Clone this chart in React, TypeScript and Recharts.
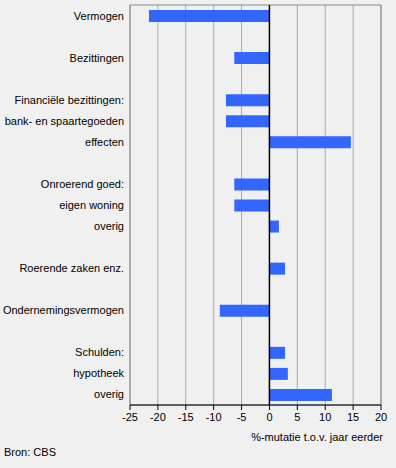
import { BarChart, Bar, XAxis, YAxis, CartesianGrid, ReferenceLine, ReferenceArea } from 'recharts';

const categories = [
  'Vermogen',
  '',
  'Bezittingen',
  '',
  'Financiële bezittingen:',
  'bank- en spaartegoeden',
  'effecten',
  '',
  'Onroerend goed:',
  'eigen woning',
  'overig',
  '',
  'Roerende zaken enz.',
  '',
  'Ondernemingsvermogen',
  '',
  'Schulden:',
  'hypotheek',
  'overig'
];

const values: (number | null)[] = [
  -21.6, null, -6.3, null, -7.8, -7.8, 14.6, null, -6.3, -6.3, 1.7, null, 2.8, null, -8.9, null, 2.8, 3.3, 11.2
];

const xTicks = [-25, -20, -15, -10, -5, 0, 5, 10, 15, 20];

const data = categories.map((label, i) => ({ key: `c${i}`, label, value: values[i] }));
const labelFor: Record<string, string> = Object.fromEntries(data.map((d) => [d.key, d.label]));

const font = '"Liberation Sans", Arial, sans-serif';

function CategoryTick(props: any) {
  const { x, y, payload } = props;
  return (
    <text x={x} y={y} textAnchor="end" dominantBaseline="central" fill="#000" fontSize={11} fontFamily={font}>
      {labelFor[payload.value]}
    </text>
  );
}

export default function App() {
  return (
    <div style={{ position: 'relative', width: 396, height: 468, background: '#f0f0f0', fontFamily: font }}>
      <style>{`body{margin:0}`}</style>
      <BarChart
        width={396}
        height={468}
        data={data}
        layout="vertical"
        margin={{ top: 5, right: 15, bottom: 33, left: 0 }}
        barSize={12}
      >
        <CartesianGrid horizontal={false} stroke="#a8a8a8" strokeWidth={1} />
        <ReferenceArea x1={-25} x2={20} fill="none" stroke="#888888" strokeWidth={1} fillOpacity={0} />
        <XAxis
          type="number"
          domain={[-25, 20]}
          ticks={xTicks}
          interval={0}
          axisLine={{ stroke: '#000', strokeWidth: 1 }}
          tickLine={{ stroke: '#000' }}
          tickSize={5}
          tickMargin={3}
          height={30}
          tick={{ fill: '#000', fontSize: 11, fontFamily: font }}
        />
        <YAxis
          type="category"
          dataKey="key"
          width={130}
          interval={0}
          axisLine={false}
          tickLine={false}
          tickSize={0}
          tickMargin={6}
          tick={<CategoryTick />}
        />
        <Bar dataKey="value" fill="#3366ff" isAnimationActive={false} />
        <ReferenceLine x={0} stroke="#000" strokeWidth={1.5} />
      </BarChart>
      <div
        style={{
          position: 'absolute',
          right: 13,
          top: 431,
          fontSize: 11,
          color: '#000'
        }}
      >
        %-mutatie t.o.v. jaar eerder
      </div>
      <div style={{ position: 'absolute', left: 4, top: 446, fontSize: 11, color: '#000' }}>Bron: CBS</div>
    </div>
  );
}
